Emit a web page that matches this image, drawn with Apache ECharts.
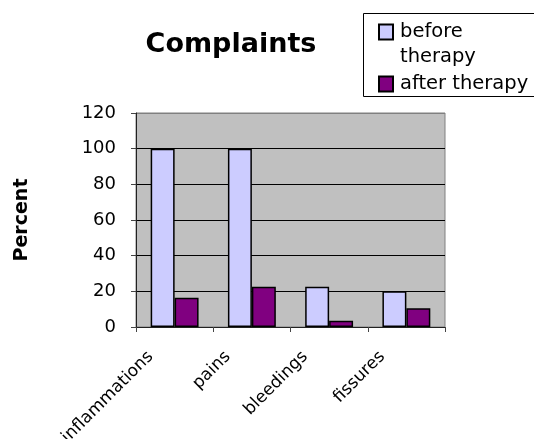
<!DOCTYPE html>
<html>
<head>
<meta charset="utf-8">
<script src="https://cdn.jsdelivr.net/npm/echarts@6/dist/echarts.min.js"></script>
<style>
html,body{margin:0;padding:0;background:#fff;}
#c{width:534px;height:439px;}
</style>
</head>
<body>
<div id="c"></div>
<script>
const categories = ['inflammations', 'pains', 'bleedings', 'fissures'];
const beforeTherapy = [100, 100, 22.6, 20];
const afterTherapy = [16.4, 22.6, 3.5, 10.5];
const seriesNames = ['before therapy', 'after therapy'];
const yTicks = { min: 0, max: 120, interval: 20 };

const FONT = 'DejaVu Sans';
const chart = echarts.init(document.getElementById('c'), null, { renderer: 'canvas' });
chart.setOption({
  animation: false,
  backgroundColor: '#ffffff',
  title: {
    text: 'Complaints',
    left: 226,
    textAlign: 'center',
    top: 26,
    textStyle: { fontFamily: FONT, fontWeight: 'bold', fontSize: 27, color: '#000' }
  },
  legend: {
    orient: 'vertical',
    left: 378,
    top: 22,
    padding: 0,
    itemWidth: 14,
    itemHeight: 15,
    itemGap: 32,
    icon: 'rect',
    data: seriesNames,
    formatter: function (n) { return n === seriesNames[0] ? 'before' : n; },
    textStyle: { fontFamily: FONT, fontSize: 19.5, color: '#000', lineHeight: 15, padding: [0, 0, 0, 2] }
  },
  graphic: [
    {
      type: 'rect',
      shape: { x: 363.5, y: 13.5, width: 200, height: 83 },
      style: { fill: 'none', stroke: '#000', lineWidth: 1 },
      silent: true
    },
    {
      type: 'text',
      x: 400,
      y: 57,
      style: { text: 'therapy', fontFamily: FONT, fontSize: 19.5, fill: '#000', verticalAlign: 'middle', align: 'left' },
      silent: true
    }
  ],
  grid: {
    left: 136,
    right: 89,
    top: 113,
    bottom: 112,
    show: true,
    backgroundColor: '#c0c0c0',
    borderColor: '#808080',
    borderWidth: 1,
    containLabel: false,
    outerBoundsMode: 'none'
  },
  xAxis: {
    type: 'category',
    data: categories,
    boundaryGap: true,
    axisLine: { show: true, lineStyle: { color: '#222', width: 1 } },
    axisTick: { show: true, length: 5, lineStyle: { color: '#444' } },
    axisLabel: {
      rotate: 45,
      interval: 0,
      margin: 3,
      padding: [0, 34, 0, 0],
      fontFamily: FONT,
      fontSize: 17,
      color: '#000'
    },
    splitLine: { show: false }
  },
  yAxis: {
    type: 'value',
    min: yTicks.min,
    max: yTicks.max,
    interval: yTicks.interval,
    name: 'Percent',
    nameLocation: 'middle',
    nameRotate: 90,
    nameGap: 104,
    nameTextStyle: { fontFamily: FONT, fontWeight: 'bold', fontSize: 19, color: '#000' },
    axisLine: { show: true, lineStyle: { color: '#222', width: 1 } },
    axisTick: { show: true, length: 5, lineStyle: { color: '#444' } },
    axisLabel: { margin: 20, fontFamily: FONT, fontSize: 18, color: '#000' },
    splitLine: {
      show: true,
      lineStyle: { color: ['#000', '#000', '#000', '#000', '#000', '#000', '#808080'], width: 1 }
    }
  },
  series: [
    {
      name: seriesNames[0],
      type: 'bar',
      data: beforeTherapy,
      barGap: '0%',
      barCategoryGap: '38%',
      itemStyle: { color: '#ccccff', borderColor: '#000', borderWidth: 1.5 }
    },
    {
      name: seriesNames[1],
      type: 'bar',
      data: afterTherapy,
      barGap: '0%',
      barCategoryGap: '38%',
      itemStyle: { color: '#800080', borderColor: '#000', borderWidth: 1.5 }
    }
  ]
});
</script>
</body>
</html>
